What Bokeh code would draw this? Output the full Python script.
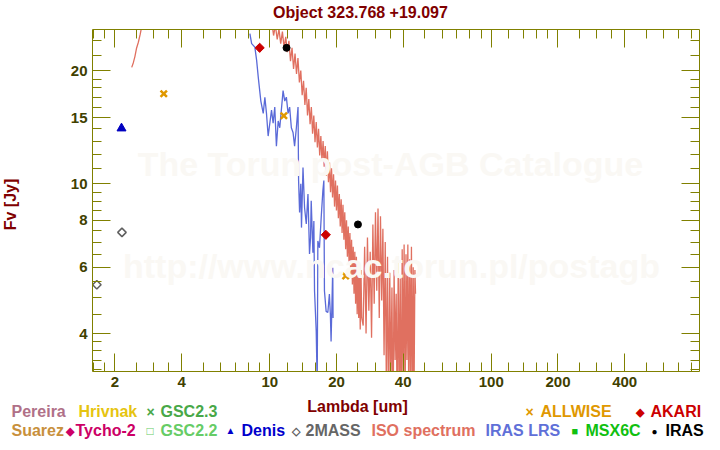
import math
from bokeh.plotting import figure
from bokeh.layouts import column, row
from bokeh.models import Range1d, LogAxis, FixedTicker, PrintfTickFormatter, Label
from bokeh.embed import file_html
from bokeh.resources import INLINE

# ---------------- data ----------------
title_text = "Object 323.768 +19.097"
x_label = "Lambda [um]"
y_label = "Fv [Jy]"

iso_wave = [2.38, 2.42, 2.46, 2.50, 2.55, 2.60, 2.66, 2.75, 3.0, 4.0, 6.0, 8.0, 9.5, 10.0,
            10.2, 10.4, 10.6, 10.8, 11.0, 11.2, 11.4, 11.6, 11.8, 12.0, 12.2, 12.4, 12.6, 12.8,
            13.0, 13.2, 13.4, 13.6, 13.8, 14.0, 14.2, 14.4, 14.6, 14.8, 15.0, 15.2, 15.4, 15.6,
            15.8, 16.0, 16.2, 16.4, 16.6, 16.8, 17.0, 17.2, 17.4, 17.6, 17.8, 18.0, 18.2, 18.4,
            18.6, 18.8, 19.0, 19.2, 19.4, 19.6, 19.8, 20.0, 20.2, 20.4, 20.6, 20.8, 21.0, 21.2,
            21.4, 21.6, 21.8, 22.0, 22.2, 22.4, 22.6, 22.8, 23.0, 23.2, 23.4, 23.6, 23.8, 24.0,
            24.2, 24.4, 24.6, 24.8, 25.0, 25.2, 25.4, 25.6, 25.8, 26.0,
            26.4, 26.8, 27.2, 27.6, 28.0, 28.4, 28.8, 29.2, 29.6, 30.0, 30.4, 30.8, 31.2, 31.6,
            32.0, 32.4, 32.8, 33.2, 33.6, 34.0, 34.4, 34.8, 35.2, 35.6, 36.0, 36.4, 36.8, 37.2,
            37.6, 38.0, 38.4, 38.8, 39.2, 39.6, 40.0, 40.4, 40.8, 41.2, 41.6, 42.0, 42.4, 42.8,
            43.2, 43.6, 44.0, 44.4, 44.8, 45.2, 45.5]
iso_flux = [20.4, 21.0, 21.8, 22.9, 23.8, 25.0, 26.8, 29.0, 35.0, 60.0, 90.0, 70.0, 40.0, 30.0,
            27.0, 24.8, 26.4, 24.2, 25.8, 23.6, 25.4, 23.0, 24.6, 22.4, 24.0, 21.2, 23.0, 20.2,
            22.2, 19.6, 21.6, 18.6, 20.0, 17.2, 18.8, 16.2, 18.0, 15.2, 16.8, 14.4, 16.0, 13.6,
            15.2, 12.9, 14.6, 12.5, 14.0, 11.9, 13.4, 11.5, 13.0, 11.1, 12.6, 10.5, 12.2, 10.1,
            11.4, 9.5, 11.0, 9.2, 10.6, 8.7, 10.2, 8.5, 9.9, 8.1, 9.4, 7.7, 9.1, 7.4,
            8.8, 7.1, 8.4, 6.7, 8.0, 6.4, 7.7, 6.1, 7.4, 5.7, 7.1, 5.4, 6.8, 5.1,
            6.6, 4.8, 6.4, 4.5, 6.2, 4.4, 6.0, 4.1, 5.9, 4.4,
            4.2, 6.8, 4.0, 7.2, 4.6, 6.6, 3.9, 7.8, 4.8, 8.4, 5.2, 8.6, 4.4, 8.2,
            4.9, 7.6, 3.5, 7.0, 2.8, 6.4, 2.4, 5.8, 2.9, 5.3, 2.2, 5.9, 3.4, 5.1,
            2.3, 6.2, 2.7, 5.6, 2.2, 6.7, 3.0, 6.9, 2.5, 6.5, 3.4, 6.9, 2.6, 6.3,
            3.1, 6.8, 2.4, 6.0, 2.8, 5.9, 5.1]

lrs_wave = [8.13, 8.28, 8.56, 8.72, 8.87, 9.11, 9.34, 9.50, 9.66, 9.83, 10.18, 10.35, 10.53,
            10.71, 10.91, 11.09, 11.48, 11.68, 11.88, 12.09, 12.29, 12.51, 12.73, 12.94, 13.18,
            13.41, 13.49, 13.63, 13.80, 13.90, 14.12, 14.35, 14.61, 14.87, 15.11, 15.27, 15.38,
            15.65, 15.81, 15.92, 16.20, 16.37, 16.48, 16.76, 17.06, 17.36, 17.54, 17.65, 17.96,
            18.28, 18.58, 18.77, 18.91, 19.24, 19.30]
lrs_flux = [25.1, 23.6, 23.1, 21.3, 19.2, 16.6, 15.4, 17.0, 15.4, 13.4, 15.7, 14.5, 16.0,
            12.6, 14.7, 14.1, 17.7, 16.6, 17.0, 15.4, 16.0, 14.1, 13.7, 12.6, 14.1,
            16.0, 10.2, 8.39, 10.0, 7.65, 11.05, 8.65, 7.82, 9.40, 6.51, 7.19, 9.01,
            6.56, 7.97, 5.19, 4.06, 2.9, 7.05, 6.76, 8.13, 9.58, 10.2, 5.19, 4.58,
            4.55, 5.09, 4.50, 3.81, 5.98, 4.40]

akari_wave = [9.0, 17.9]
akari_flux = [23.0, 7.32]
iras_wave = [11.9, 25.0]
iras_flux = [23.0, 7.80]
allwise_wave = [3.32, 11.57, 22.0]
allwise_flux = [17.36, 15.17, 5.69]
denis_wave = [2.14]
denis_flux = [14.05]
tmass_wave = [1.656, 2.15]
tmass_flux = [5.39, 7.43]

x_major = [2, 4, 10, 20, 40, 100, 200, 400]
x_minor = [1.6, 1.8, 2.5, 3, 3.5, 5, 6, 7, 8, 9, 12, 14, 16, 18, 25, 30, 35, 50, 60, 70, 80,
           90, 120, 140, 160, 180, 250, 300, 350, 500, 600, 700, 800]
y_major = [4, 6, 8, 10, 15, 20]
y_minor = [3.2, 3.4, 3.6, 3.8, 4.5, 5, 5.5, 6.5, 7, 7.5, 8.5, 9, 9.5, 11, 12, 13, 14, 16, 17,
           18, 19, 22, 24]

legend_items = [
    # (text, x, baseline y in page pixels, color, size)
    ("Pereira", 11, 416, "#b07088", 16),
    ("Hrivnak", 78, 416, "#e6c410", 16),
    ("\u00d7", 146, 416, "#48a848", 14),
    ("GSC2.3", 160, 416, "#48a848", 16),
    ("\u00d7", 525, 416, "#e09800", 14),
    ("ALLWISE", 540, 416, "#e09800", 16),
    ("\u25c6", 635, 415, "#cc0000", 11),
    ("AKARI", 650, 416, "#cc0000", 16),
    ("Suarez", 11, 435, "#c8903c", 16),
    ("\u25c6", 65, 434, "#cc0066", 11),
    ("Tycho-2", 75, 435, "#cc0066", 16),
    ("\u25a1", 146, 434, "#66cc66", 12),
    ("GSC2.2", 160, 435, "#66cc66", 16),
    ("\u25b2", 225, 433, "#0000cc", 10),
    ("Denis", 241, 435, "#0000cc", 16),
    ("\u25c7", 291, 434, "#606060", 11),
    ("2MASS", 305, 435, "#666666", 16),
    ("ISO spectrum", 371, 435, "#e07060", 16),
    ("IRAS LRS", 485, 435, "#6070d8", 16),
    ("\u25a0", 571, 434, "#10c010", 11),
    ("MSX6C", 585, 435, "#10c010", 16),
    ("\u25cf", 651, 434, "#000000", 10),
    ("IRAS", 665, 435, "#000000", 16),
]

# ---------------- layout constants ----------------
FONT = "Liberation Sans"
W = 720
TOP_H = 24          # title strip height
MAIN_BOTTOM = 395   # page y where main figure ends
YSTRIP_W = 20       # strip holding the y-axis title
FL, FT, FR, FB = 92, 29, 699, 371   # frame box in page pixels
AXIS_COL = "#808000"
TICKLAB_COL = "#404000"
BASE_SHIFT = 0.33   # anchor-to-baseline offset of rendered text, in em


def no_align(f):
    try:
        f.frame_align = False
    except AttributeError:
        pass


def strip(width, height):
    f = figure(width=width, height=height, x_range=Range1d(0, 1), y_range=Range1d(0, 1),
               x_axis_type=None, y_axis_type=None, output_backend="svg",
               toolbar_location=None, min_border=0)
    f.outline_line_color = None
    f.grid.visible = False
    f.background_fill_color = "white"
    f.border_fill_color = "white"
    no_align(f)
    return f


def put(fig, text, x, y, color, size, align="left", angle=0.0):
    """x, y: baseline position, frame-relative, y upwards."""
    if angle == 0.0:
        y = y + BASE_SHIFT * size
    else:
        x = x - BASE_SHIFT * size
    fig.add_layout(Label(x=x, y=y, x_units="screen", y_units="screen", text=text,
                         text_color=color, text_font=FONT, text_font_size=f"{size}px",
                         text_font_style="bold", text_align=align,
                         text_baseline="alphabetic", angle=angle))


# ---------------- title strip ----------------
top = strip(W, TOP_H)
put(top, title_text, 360, TOP_H - 17, "#800000", 16, align="center")

# ---------------- y-title strip ----------------
MAIN_H = MAIN_BOTTOM - TOP_H
ystrip = strip(YSTRIP_W, MAIN_H)
put(ystrip, y_label, 15, MAIN_BOTTOM - 204, "#800000", 16, align="center", angle=math.pi / 2)

# ---------------- main figure ----------------
p = figure(width=W - YSTRIP_W, height=MAIN_H, x_axis_type="log", y_axis_type="log",
           x_range=Range1d(1.583, 871), y_range=Range1d(3.17, 25.73),
           output_backend="svg", toolbar_location=None,
           min_border_left=FL - YSTRIP_W, min_border_right=W - FR,
           min_border_top=FT - TOP_H, min_border_bottom=MAIN_BOTTOM - FB)
p.grid.visible = False
p.outline_line_color = None
p.background_fill_color = "white"
p.border_fill_color = "white"
no_align(p)

bottom_ax = p.below[0]
left_ax = p.left[0]
top_ax = LogAxis()
right_ax = LogAxis()
p.add_layout(top_ax, "above")
p.add_layout(right_ax, "right")

for ax, maj, mnr in [(bottom_ax, x_major, x_minor), (top_ax, x_major, x_minor),
                     (left_ax, y_major, y_minor), (right_ax, y_major, y_minor)]:
    ax.ticker = FixedTicker(ticks=maj, minor_ticks=mnr)
    ax.formatter = PrintfTickFormatter(format="%d")
    ax.axis_line_color = AXIS_COL
    ax.axis_line_width = 1
    ax.major_tick_line_color = AXIS_COL
    ax.minor_tick_line_color = AXIS_COL
    ax.major_tick_in = 18
    ax.major_tick_out = 0
    ax.minor_tick_in = 9
    ax.minor_tick_out = 0
    ax.major_label_text_font = FONT
    ax.major_label_text_font_style = "bold"
    ax.major_label_text_font_size = "15px"
    ax.major_label_text_color = TICKLAB_COL
    ax.major_label_standoff = 5

top_ax.major_label_text_font_size = "0px"
top_ax.major_label_standoff = 0
right_ax.major_label_text_font_size = "0px"
right_ax.major_label_standoff = 0

# watermark (frame-relative screen units)
put(p, "The Torun post-AGB Catalogue", 390 - FL, FB - 175, "#faf8f4", 34, align="center")
put(p, "http://www.ncac.torun.pl/postagb", 391 - FL, FB - 277, "#faf8f4", 34, align="center")

# spectra
p.line(iso_wave, iso_flux, line_color="#e07060", line_width=1.3)
p.line(lrs_wave, lrs_flux, line_color="#5a6ad8", line_width=1.3)

# photometry
p.scatter(tmass_wave, tmass_flux, marker="square", angle=math.pi / 4, size=6,
          fill_color=None, line_color="#606060", line_width=1.5)
p.scatter(denis_wave, denis_flux, marker="triangle", size=9, fill_color="#0000c0",
          line_color="#0000c0")
p.scatter(allwise_wave, allwise_flux, marker="x", size=9, line_color="#e09800", line_width=2.5)
p.scatter(akari_wave, akari_flux, marker="square", angle=math.pi / 4, size=6.5,
          fill_color="#cc0000", line_color="#cc0000")
p.scatter(iras_wave, iras_flux, marker="circle", size=7, fill_color="black", line_color="black")

# ---------------- bottom strip: x label + legend ----------------
LEG_H = 450 - MAIN_BOTTOM
leg = strip(W, LEG_H)
put(leg, x_label, 357, 450 - 411, "#800000", 16, align="center")
for text, cx, cy, col, sz in legend_items:
    put(leg, text, cx, 450 - cy, col, sz)

layout = column(top, row(ystrip, p, spacing=0), leg, spacing=0)
open("out.html", "w").write(file_html(layout, INLINE))
